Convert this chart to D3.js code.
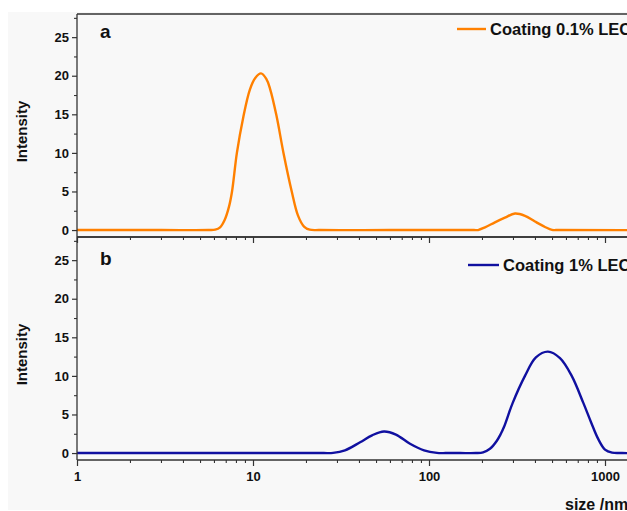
<!DOCTYPE html>
<html>
<head>
<meta charset="utf-8">
<script src="https://cdn.jsdelivr.net/npm/d3@7"></script>
<style>
  html, body { margin: 0; padding: 0; background: #ffffff; overflow: hidden; }
  svg { display: block; font-family: "Liberation Sans", Arial, sans-serif; }
</style>
</head>
<body>
<svg id="chart" width="627" height="511"></svg>
<script>
// ---- data ----
const orangeSize = [1, 3, 5.6, 6.1, 6.5, 6.9, 7.3, 7.6, 8.1, 8.8, 9.6, 10.3, 11.1, 11.9, 12.5, 13.6, 14.9, 16.6, 18.0, 19.5, 21.0, 24, 60, 180, 190, 208, 237, 270, 308, 351, 400, 456, 500, 530, 2000, 10000];
const orangeIntensity = [0, 0, 0, 0.05, 0.35, 1.3, 3.0, 5, 10, 14.6, 18.2, 19.7, 20.3, 19.6, 18.3, 14.8, 10, 5, 1.9, 0.45, 0.05, 0, 0, 0, 0, 0.35, 1.0, 1.6, 2.15, 1.85, 1.1, 0.4, 0.02, 0, 0, 0];
const blueSize = [1, 10, 25, 28.5, 33.3, 40.6, 47.5, 55.5, 64.9, 78, 93.7, 111, 125, 150, 185, 203, 222, 243, 256, 267, 299, 351, 405, 474, 555, 647, 753, 833, 916, 1000, 1097, 1250, 3000, 10000];
const blueIntensity = [0, 0, 0, 0.02, 0.35, 1.4, 2.3, 2.8, 2.4, 1.2, 0.35, 0.02, 0, 0, 0, 0.1, 0.55, 1.6, 2.5, 3.4, 6.5, 10, 12.4, 13.15, 12.3, 10, 6.5, 4, 1.8, 0.45, 0.05, 0, 0, 0];
const xMajorTicks = [1, 10, 100, 1000];
const yMajorTicks = [0, 5, 10, 15, 20, 25];
const yMinorTicks = [2.5, 7.5, 12.5, 17.5, 22.5, 27.5];
const seriesNames = ["Coating 0.1% LEC", "Coating 1% LEC"];
const panelLabels = ["a", "b"];
const xTitle = "size /nm";
const yTitle = "Intensity";

// ---- layout ----
const svg = d3.select("#chart");
const W = 627, H = 511;
const left = 77, right = 781;
const panels = [
  { top: 14, bottom: 237, size: orangeSize, val: orangeIntensity, color: "#ff8000", name: seriesNames[0], label: panelLabels[0],
    legend: { x1: 457, x2: 486, y: 29, tx: 490 } },
  { top: 237, bottom: 460, size: blueSize, val: blueIntensity, color: "#1010a0", name: seriesNames[1], label: panelLabels[1],
    legend: { x1: 468, x2: 499, y: 265, tx: 503 } }
];

// background
svg.append("rect").attr("x", 0).attr("y", 0).attr("width", W).attr("height", H).attr("fill", "#ffffff");
svg.append("rect").attr("x", 8).attr("y", 12).attr("width", W - 8).attr("height", H - 13).attr("fill", "#f8f8f8");

const x = d3.scaleLog().domain([1, 10000]).range([left, right]);
const xMinor = [];
[1, 10, 100, 1000].forEach(d => { for (let k = 2; k <= 9; k++) xMinor.push(d * k); });

const axisColor = "#333333";

panels.forEach((p, i) => {
  const y = d3.scaleLinear().domain([-0.9, 28]).range([p.bottom, p.top]);

  const clipId = "clip" + i;
  svg.append("clipPath").attr("id", clipId)
    .append("rect").attr("x", left).attr("y", p.top).attr("width", right - left).attr("height", p.bottom - p.top);

  // data line
  const pts = p.size.map((s, j) => [s, p.val[j]]);
  const line = d3.line().x(d => x(d[0])).y(d => y(d[1])).curve(d3.curveCatmullRom.alpha(0.5));
  svg.append("path").datum(pts)
    .attr("clip-path", `url(#${clipId})`)
    .attr("d", line)
    .attr("fill", "none").attr("stroke", p.color).attr("stroke-width", 2.4)
    .attr("stroke-linejoin", "round");

  // frame: top line
  svg.append("line").attr("x1", left).attr("x2", right).attr("y1", p.top).attr("y2", p.top)
    .attr("stroke", axisColor).attr("stroke-width", 1.3);

  // y axis (major)
  const yAxis = d3.axisLeft(y).tickValues(yMajorTicks).tickSize(5).tickPadding(3).tickFormat(d3.format("d"));
  const gy = svg.append("g").attr("transform", `translate(${left},0)`).call(yAxis);
  gy.select(".domain").remove();
  gy.selectAll(".tick line").attr("stroke", axisColor).attr("stroke-width", 1.2);
  gy.selectAll(".tick text").attr("font-size", 13).attr("font-weight", "bold").attr("fill", "#111")
    .attr("font-family", "'Liberation Sans', Arial, sans-serif");
  // y minor ticks
  const gym = svg.append("g").attr("transform", `translate(${left},0)`)
    .call(d3.axisLeft(y).tickValues(yMinorTicks).tickSize(3).tickFormat(""));
  gym.select(".domain").remove();
  gym.selectAll(".tick line").attr("stroke", axisColor).attr("stroke-width", 1.1);

  svg.append("line").attr("x1", left).attr("x2", left).attr("y1", p.top).attr("y2", p.bottom)
    .attr("stroke", axisColor).attr("stroke-width", 1.3);

  // bottom axis of panel
  const showLabels = i === 1;
  const xAxis = d3.axisBottom(x).tickValues(xMajorTicks).tickSize(6).tickPadding(6)
    .tickFormat(showLabels ? d3.format("d") : "");
  const gx = svg.append("g").attr("transform", `translate(0,${p.bottom})`).call(xAxis);
  gx.select(".domain").remove();
  gx.selectAll(".tick line").attr("stroke", axisColor).attr("stroke-width", 1.2);
  gx.selectAll(".tick text").attr("font-size", 13).attr("font-weight", "bold").attr("fill", "#111")
    .attr("font-family", "'Liberation Sans', Arial, sans-serif");
  const gxm = svg.append("g").attr("transform", `translate(0,${p.bottom})`)
    .call(d3.axisBottom(x).tickValues(xMinor).tickSize(3).tickFormat(""));
  gxm.select(".domain").remove();
  gxm.selectAll(".tick line").attr("stroke", axisColor).attr("stroke-width", 1.1);
  svg.append("line").attr("x1", left).attr("x2", right).attr("y1", p.bottom).attr("y2", p.bottom)
    .attr("stroke", axisColor).attr("stroke-width", 1.3);

  // y title
  const cy = (p.top + p.bottom) / 2 + 6;
  svg.append("text").attr("transform", `translate(27,${cy}) rotate(-90)`)
    .attr("text-anchor", "middle").attr("font-size", 15).attr("font-weight", "bold").attr("fill", "#111")
    .text(yTitle);

  // panel label
  svg.append("text").attr("x", 100).attr("y", p.top + (i === 0 ? 24 : 28))
    .attr("font-size", 19).attr("font-weight", "bold").attr("fill", "#111").text(p.label);

  // legend
  svg.append("line").attr("x1", p.legend.x1).attr("x2", p.legend.x2).attr("y1", p.legend.y).attr("y2", p.legend.y)
    .attr("stroke", p.color).attr("stroke-width", 2.4);
  svg.append("text").attr("x", p.legend.tx).attr("y", p.legend.y).attr("dy", "0.36em")
    .attr("font-size", 16.5).attr("font-weight", "bold").attr("fill", "#111").text(p.name);
});

// x title
svg.append("text").attr("x", 565).attr("y", 510)
  .attr("font-size", 16).attr("font-weight", "bold").attr("fill", "#111").text(xTitle);
</script>
</body>
</html>
